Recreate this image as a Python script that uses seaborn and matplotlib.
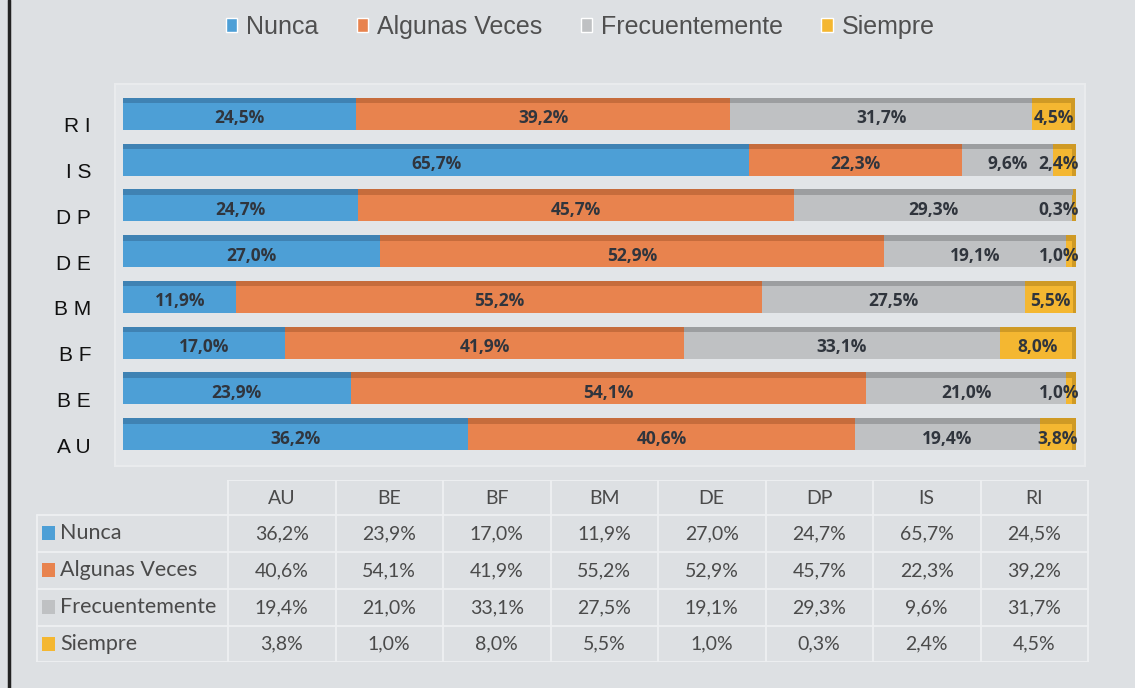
"""
Barras apiladas 100% con tabla de datos
"""

import numpy as np
import pandas as pd
import matplotlib
matplotlib.use("Agg")
import matplotlib.pyplot as plt
import matplotlib.transforms as mtransforms
from matplotlib.patches import Rectangle
import seaborn as sns

# datos (orden de la tabla)
categorias = ['AU', 'BE', 'BF', 'BM', 'DE', 'DP', 'IS', 'RI']
series = ['Nunca', 'Algunas Veces', 'Frecuentemente', 'Siempre']
nunca = [36.2, 23.9, 17.0, 11.9, 27.0, 24.7, 65.7, 24.5]
algunas = [40.6, 54.1, 41.9, 55.2, 52.9, 45.7, 22.3, 39.2]
frecuente = [19.4, 21.0, 33.1, 27.5, 19.1, 29.3, 9.6, 31.7]
siempre = [3.8, 1.0, 8.0, 5.5, 1.0, 0.3, 2.4, 4.5]

colores = ['#4d9fd6', '#e8834e', '#bfc1c3', '#f4b731']
oscuros = ['#3f82b3', '#c66c3c', '#9c9ea0', '#cf9a25']
fondo = '#dde0e3'

W, H = 1135, 688


def px(x0, y0, x1, y1):
    """rectangulo en pixeles -> coordenadas de figura"""
    return [x0 / W, 1 - y1 / H, (x1 - x0) / W, (y1 - y0) / H]


sns.set_theme(style='white')
plt.rcParams['font.family'] = ['Liberation Sans', 'DejaVu Sans']

df = pd.DataFrame({'cat': categorias, 'Nunca': nunca, 'Algunas Veces': algunas,
                   'Frecuentemente': frecuente, 'Siempre': siempre})
orden = categorias[::-1]  # RI arriba
valores = df[series].to_numpy()
acum = np.cumsum(valores, axis=1)

fig = plt.figure(figsize=(W / 100, H / 100), dpi=100)
fig.patch.set_facecolor(fondo)

# area del grafico (ligeramente mas clara)
fig.patches.append(Rectangle((115 / W, 1 - 466 / H), 970 / W, 382 / H,
                             transform=fig.transFigure, facecolor='#e2e5e8',
                             edgecolor='#e9ebed', lw=1.5, zorder=-5))
# borde izquierdo
fig.add_artist(plt.Line2D([9 / W, 9 / W], [0, 1], color='#222222', lw=2.5,
                          transform=fig.transFigure))

ax = fig.add_axes(px(123, 91, 1076, 457))
ax.set_facecolor('none')
ax.set_zorder(2)

# apilado: se dibuja el acumulado de mayor a menor
for i in range(len(series) - 1, -1, -1):
    tmp = pd.DataFrame({'cat': categorias, 'val': acum[:, i]})
    sns.barplot(data=tmp, x='val', y='cat', order=orden, orient='h',
                color=colores[i], saturation=1, width=0.7, linewidth=0, ax=ax)

# franja superior y lateral mas oscura (efecto 3D)
for k, p in enumerate(list(ax.patches)):
    i = len(series) - 1 - k // len(categorias)
    ax.add_patch(Rectangle((p.get_x(), p.get_y()), p.get_width(), p.get_height() * 0.17,
                           facecolor=oscuros[i], edgecolor='none', zorder=p.get_zorder() + 0.1))
    if i == len(series) - 1:
        ax.add_patch(Rectangle((p.get_width() - 0.4, p.get_y()), 0.4, p.get_height(),
                               facecolor=oscuros[i], edgecolor='none', zorder=p.get_zorder() + 0.1))

# etiquetas de cada segmento
for r, cat in enumerate(categorias):
    y = orden.index(cat) + 0.1
    for i in range(len(series)):
        v = valores[r, i]
        ini = acum[r, i] - v
        xm = ini + v / 2
        if i == 3:
            xm = min(xm, 100 - 1.8)
        ax.text(xm, y, f'{v:.1f}%'.replace('.', ','), ha='center', va='center',
                fontsize=12.5, fontweight='bold', color='#30353d', zorder=5,
                family=['Open Sans', 'DejaVu Sans'])

ax.set_xlim(0, 100)
ax.set_xlabel('')
ax.set_ylabel('')
ax.set_xticks([])
sns.despine(ax=ax, left=True, bottom=True)
ax.tick_params(axis='y', length=0, pad=23, labelsize=15, labelcolor='#111111')
ax.set_yticks(range(len(orden)))
ax.set_yticklabels([' '.join(c) for c in orden], family=['Liberation Sans', 'DejaVu Sans'])
desplaza = mtransforms.ScaledTranslation(0, -11 / 100, fig.dpi_scale_trans)
for t in ax.get_yticklabels():
    t.set_transform(t.get_transform() + desplaza)

# leyenda superior
handles = [Rectangle((0, 0), 1, 1, facecolor=c) for c in colores]
fig.legend(handles, series, loc='center', bbox_to_anchor=(580 / W, 1 - 27 / H), ncol=4,
           frameon=False, fontsize=18, handlelength=0.45, handleheight=0.45,
           handletextpad=0.35, columnspacing=1.55, labelcolor='#505050')

# tabla de datos
tx = fig.add_axes(px(35, 480, 1090, 662))
tx.set_xlim(35, 1090)
tx.set_ylim(662, 480)
tx.axis('off')
x_ini = 228
ancho = (1088 - x_ini) / len(categorias)
filas_y = [480, 515, 552, 589, 626, 662]
fuente_t = ['Lato', 'DejaVu Sans']
for j, cat in enumerate(categorias):
    xc = x_ini + ancho * (j + 0.5)
    tx.text(xc, (filas_y[0] + filas_y[1]) / 2 + 1, cat, ha='center', va='center',
            fontsize=14, color='#4a4a4a', family=fuente_t)
    for i in range(len(series)):
        yc = (filas_y[i + 1] + filas_y[i + 2]) / 2
        tx.text(xc, yc, f'{valores[j, i]:.1f}%'.replace('.', ','), ha='center', va='center',
                fontsize=14, color='#4a4a4a', family=fuente_t)
for i, s in enumerate(series):
    yc = (filas_y[i + 1] + filas_y[i + 2]) / 2
    tx.add_patch(Rectangle((42, yc - 7), 13, 14, facecolor=colores[i], edgecolor='none'))
    tx.text(60, yc, s, ha='left', va='center', fontsize=15.5, color='#4a4a4a', family=fuente_t)

# lineas blancas de la tabla
for yy in filas_y:
    x0 = x_ini if yy == filas_y[0] else 37
    tx.plot([x0, 1088], [yy, yy], color='#eef0f2', lw=1.3)
for j in range(len(categorias) + 1):
    xx = x_ini + ancho * j
    tx.plot([xx, xx], [filas_y[0], filas_y[-1]], color='#eef0f2', lw=1.3)
tx.plot([37, 37], [filas_y[1], filas_y[-1]], color='#eef0f2', lw=1.3)

fig.savefig('out.png', dpi=100, facecolor=fig.get_facecolor())
